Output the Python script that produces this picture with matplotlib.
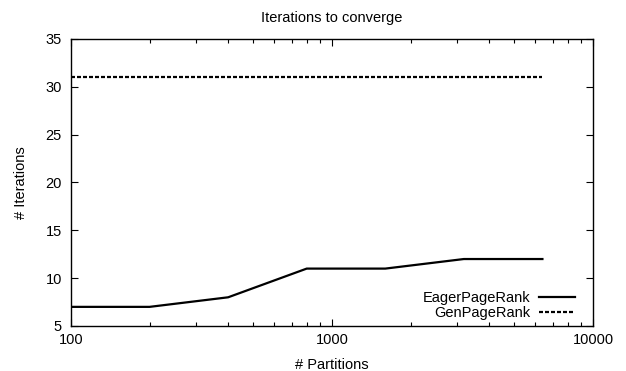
import matplotlib.pyplot as plt
import numpy as np
from matplotlib.ticker import LogLocator, NullFormatter, FixedLocator

plt.rcParams['font.family'] = ['Liberation Sans', 'DejaVu Sans']

# iterations to converge vs. number of partitions
partitions = [100, 200, 400, 800, 1600, 3200, 6400]
eager_iters = [7, 7, 8, 11, 11, 12, 12]
gen_iters = [31, 31, 31, 31, 31, 31, 31]

fs = 10.5

fig = plt.figure(figsize=(6.26, 3.71), dpi=100)
ax = fig.add_axes([0.1134, 0.1213, 0.8339, 0.7736])

ax.plot(partitions, eager_iters, color='black', lw=1.6, label='EagerPageRank')
ax.plot(partitions, gen_iters, color='black', lw=1.6, dashes=(1.8, 0.9),
        label='GenPageRank')

ax.set_xscale('log')
ax.set_xlim(100, 10000)
ax.set_ylim(5, 35)
ax.xaxis.set_major_locator(FixedLocator([100, 1000, 10000]))
ax.xaxis.set_major_formatter(plt.FuncFormatter(lambda v, p: '%d' % v))
ax.xaxis.set_minor_locator(LogLocator(base=10, subs=np.arange(2, 10)))
ax.xaxis.set_minor_formatter(NullFormatter())
ax.set_yticks([5, 10, 15, 20, 25, 30, 35])

ax.tick_params(which='both', direction='in', top=True, right=True,
               labelsize=fs, width=0.8)
ax.tick_params(axis='x', pad=5)
ax.tick_params(axis='y', pad=6.5)
ax.tick_params(which='major', length=5)
ax.tick_params(which='minor', length=3)
for s in ax.spines.values():
    s.set_linewidth(1.0)

ax.set_title('Iterations to converge', fontsize=fs, pad=12)
ax.set_xlabel('# Partitions', fontsize=fs, labelpad=8)
ax.set_ylabel('# Iterations', fontsize=fs, labelpad=13)

ax.legend(loc='lower right', bbox_to_anchor=(0.977, 0.0), frameon=False,
          markerfirst=False, fontsize=fs, handlelength=2.5, handletextpad=0.6,
          labelspacing=0.1, borderaxespad=0)

fig.savefig('out.png', dpi=100)
